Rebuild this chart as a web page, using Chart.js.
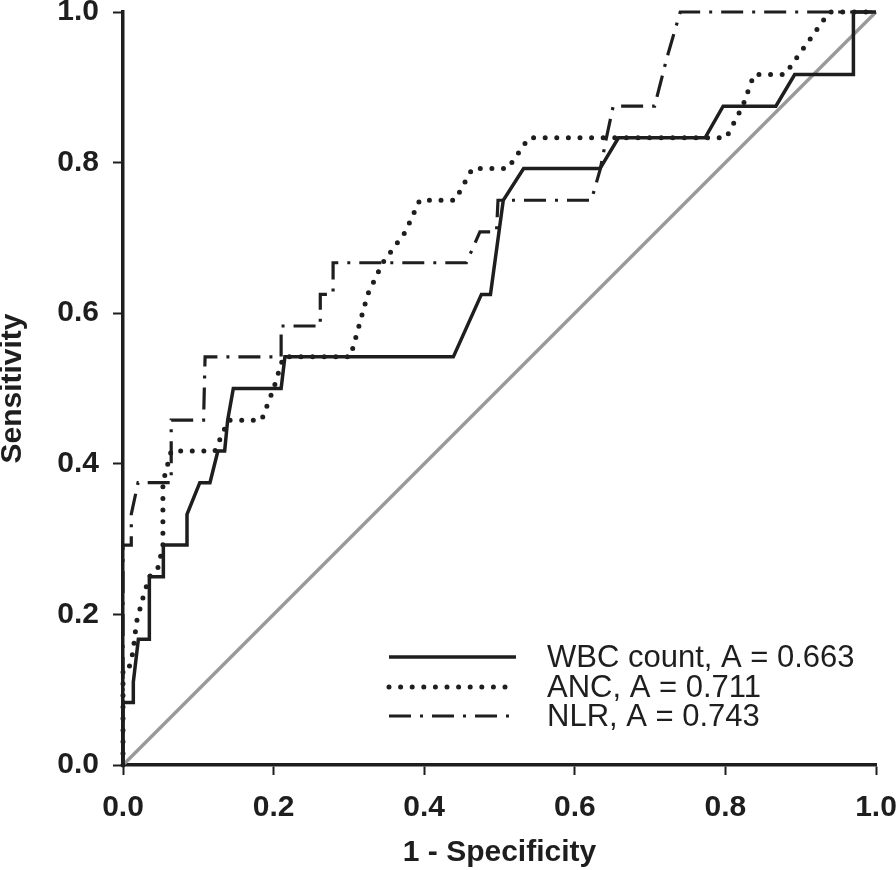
<!DOCTYPE html>
<html>
<head>
<meta charset="utf-8">
<script src="https://cdn.jsdelivr.net/npm/chart.js@4.4.1/dist/chart.umd.min.js"></script>
<style>
  html, body { margin: 0; padding: 0; background: #fff; }
  #wrap { width: 896px; height: 870px; }
</style>
</head>
<body>
<div id="wrap"><canvas id="c" width="896" height="870"></canvas></div>
<script>
// ---- data ----
const xTicks = [0, 0.2, 0.4, 0.6, 0.8, 1.0];
const yTicks = [0, 0.2, 0.4, 0.6, 0.8, 1.0];

const seriesLabels = ["WBC count, A = 0.663", "ANC, A = 0.711", "NLR, A = 0.743"];

const wbcX = [0, 0, 0.0137, 0.0137, 0.0204, 0.035, 0.035, 0.0536, 0.0536, 0.085, 0.085, 0.102, 0.1155, 0.126, 0.135, 0.139, 0.1465, 0.21, 0.215, 0.4387, 0.476, 0.488, 0.505, 0.532, 0.6335, 0.658, 0.773, 0.797, 0.867, 0.892, 0.970, 0.970, 1.0];
const wbcY = [0, 0.083, 0.083, 0.110, 0.167, 0.167, 0.250, 0.250, 0.292, 0.292, 0.333, 0.375, 0.375, 0.417, 0.417, 0.458, 0.500, 0.500, 0.542, 0.542, 0.625, 0.625, 0.750, 0.792, 0.792, 0.833, 0.833, 0.875, 0.875, 0.917, 0.917, 1.0, 1.0];

const ancX = [0, 0, 0.007, 0.0133, 0.018, 0.027, 0.035, 0.047, 0.053, 0.053, 0.064, 0.122, 0.140, 0.184, 0.200, 0.213, 0.302, 0.325, 0.345, 0.375, 0.394, 0.441, 0.464, 0.511, 0.539, 0.801, 0.823, 0.838, 0.879, 0.938, 1.0];
const ancY = [0, 0.125, 0.125, 0.150, 0.190, 0.224, 0.250, 0.263, 0.292, 0.375, 0.417, 0.417, 0.458, 0.458, 0.500, 0.542, 0.542, 0.625, 0.667, 0.708, 0.750, 0.750, 0.792, 0.792, 0.833, 0.833, 0.875, 0.917, 0.917, 1.0, 1.0];

const nlrX = [0, 0, 0.011, 0.011, 0.020, 0.064, 0.064, 0.107, 0.109, 0.210, 0.210, 0.262, 0.262, 0.279, 0.279, 0.456, 0.474, 0.496, 0.498, 0.622, 0.634, 0.642, 0.651, 0.706, 0.722, 0.740, 1.0];
const nlrY = [0, 0.292, 0.292, 0.333, 0.375, 0.375, 0.458, 0.458, 0.542, 0.542, 0.583, 0.583, 0.625, 0.625, 0.667, 0.667, 0.708, 0.708, 0.750, 0.750, 0.792, 0.833, 0.875, 0.875, 0.938, 1.0, 1.0];

const refX = [0, 1];
const refY = [0, 1];

function pts(xs, ys) { return xs.map((x, i) => ({ x: x, y: ys[i] })); }

const INK = '#1e1e1e';
const dotDash = [0, 11.6];
const dashDot = [22, 9, 3, 9];

const legendPlugin = {
  id: 'rocLegend',
  afterDatasetsDraw(chart) {
    const ctx = chart.ctx;
    const rows = [657, 687, 716];
    const styles = [
      { w: 3.5, dash: [], cap: 'butt' },
      { w: 5, dash: dotDash, cap: 'round' },
      { w: 3.2, dash: dashDot, cap: 'butt' }
    ];
    ctx.save();
    for (let i = 0; i < 3; i++) {
      const s = styles[i];
      ctx.beginPath();
      ctx.strokeStyle = INK;
      ctx.lineWidth = s.w;
      ctx.lineCap = s.cap;
      ctx.setLineDash(s.dash);
      ctx.moveTo(389, rows[i]);
      ctx.lineTo(516, rows[i]);
      ctx.stroke();
      ctx.setLineDash([]);
      ctx.fillStyle = INK;
      ctx.font = '31px "Liberation Sans", Arial, sans-serif';
      ctx.textBaseline = 'middle';
      ctx.textAlign = 'left';
      ctx.fillText(seriesLabels[i], 547, rows[i] + 1);
    }
    ctx.restore();
  }
};

const tickFont = { family: '"Liberation Sans", Arial, sans-serif', size: 30, weight: 'bold' };
const xTitleFont = { family: '"Liberation Sans", Arial, sans-serif', size: 30, weight: 'bold', lineHeight: 1 };
const yTitleFont = { family: '"Liberation Sans", Arial, sans-serif', size: 30, weight: 'bold', lineHeight: 0.85 };

new Chart(document.getElementById('c'), {
  type: 'scatter',
  data: {
    datasets: [
      { label: seriesLabels[0], data: pts(wbcX, wbcY), showLine: true, borderColor: INK, borderWidth: 3.5, pointRadius: 0, tension: 0, clip: false, order: 1 },
      { label: seriesLabels[1], data: pts(ancX, ancY), showLine: true, borderColor: INK, borderWidth: 5, borderDash: dotDash, borderCapStyle: 'round', pointRadius: 0, tension: 0, clip: false, order: 2 },
      { label: seriesLabels[2], data: pts(nlrX, nlrY), showLine: true, borderColor: INK, borderWidth: 3.2, borderDash: dashDot, pointRadius: 0, tension: 0, clip: false, order: 3 },
      { label: 'reference', data: pts(refX, refY), showLine: true, borderColor: '#999999', borderWidth: 3.4, pointRadius: 0, clip: false, order: 4 }
    ]
  },
  options: {
    responsive: false,
    animation: false,
    events: [],
    layout: { padding: { top: 12, right: 20, left: 0, bottom: 0 } },
    plugins: { legend: { display: false }, tooltip: { enabled: false } },
    scales: {
      x: {
        type: 'linear', min: 0, max: 1,
        afterFit(s) { s.height = 105; s.paddingLeft = 0; s.paddingRight = 0; s.paddingTop = 0; s.paddingBottom = 0; },
        afterBuildTicks(s) { s.ticks = xTicks.map(v => ({ value: v })); },
        ticks: { font: tickFont, color: INK, padding: 15, maxRotation: 0, callback: v => Number(v).toFixed(1) },
        grid: { drawOnChartArea: false, drawTicks: true, tickLength: 10, tickWidth: 2, tickColor: INK },
        border: { display: true, color: INK, width: 3.5 },
        title: { display: true, text: '1 - Specificity', color: INK, font: xTitleFont, padding: { top: 0, bottom: 2 } }
      },
      y: {
        type: 'linear', min: 0, max: 1,
        afterFit(s) { s.width = 123; s.paddingLeft = 0; s.paddingRight = 0; s.paddingTop = 0; s.paddingBottom = 0; },
        afterBuildTicks(s) { s.ticks = yTicks.map(v => ({ value: v })); },
        ticks: { font: tickFont, color: INK, padding: 14, callback: v => Number(v).toFixed(1) },
        grid: { drawOnChartArea: false, drawTicks: true, tickLength: 10, tickWidth: 2, tickColor: INK },
        border: { display: true, color: INK, width: 3.5 },
        title: { display: true, text: 'Sensitivity', color: INK, font: yTitleFont, padding: { top: 0, bottom: 0 } }
      }
    }
  },
  plugins: [legendPlugin]
});
</script>
</body>
</html>
